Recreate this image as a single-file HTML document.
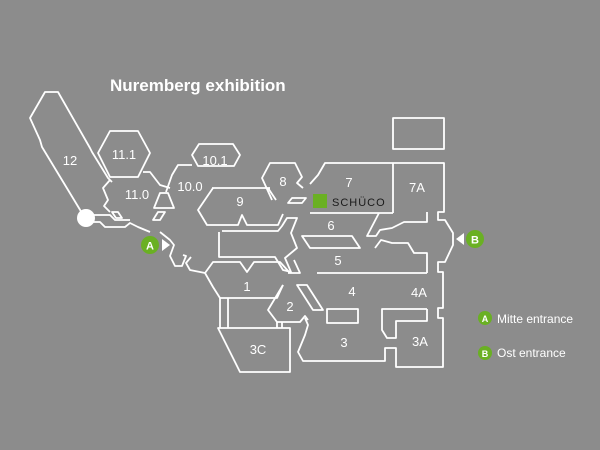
<!DOCTYPE html>
<html><head><meta charset="utf-8"><style>
html,body{margin:0;padding:0;background:#8c8c8c;}
svg{display:block}
text{font-family:"Liberation Sans",sans-serif;fill:#fff;}
</style></head><body>
<svg width="600" height="450" viewBox="0 0 600 450">
<rect width="600" height="450" fill="#8c8c8c"/>
<g fill="none" stroke="#fff" stroke-width="1.8" stroke-linejoin="round">
<polyline points="85,218 42,147 40,140 30,118 45,92 58,92 90,148 92,152 108,178 112,182"/>
<polyline points="85,222 100,222 105,227 125,227 130,223 138,227 150,232"/>
<polyline points="93,215 110,215 115,220 130,220"/>
<polygon points="98,153 110,131 138,131 150,153 138,177 110,177"/>
<polyline points="110,180 103,188 108,200 104,206 110,212"/>
<polyline points="143,172 150,172 160,185 170,188"/>
<polygon points="160,193 168,193 174,208 160,208 154,208"/>
<polygon points="112,212 118,212 122,218 116,218"/>
<polygon points="158,212 165,212 160,220 153,220"/>
<polyline points="166,192 172,175 178,165 192,165"/>
<polygon points="192,155 199,144 233,144 240,155 234,166 198,166"/>
<polyline points="212,188 270,188"/>
<polyline points="213,188 198,210 207,225 238,225 242,215 247,225 278,225 283,214"/>
<polyline points="268,188 276,200"/>
<polyline points="272,200 262,178 270,163 295,163 302,177 297,183 303,188"/>
<polygon points="292,198 306,198 302,203 288,203"/>
<polyline points="310,184 318,175 325,163 444,163 444,212 438,212 438,220 445,220 453,233 453,245 445,262 438,262 438,272 443,272 443,308 438,308 438,318 443,318 443,367 396,367 396,348 385,348 385,361 303,361 298,352 305,335 308,325 305,318"/>
<line x1="310" y1="213" x2="393" y2="213"/>
<line x1="393" y1="163" x2="393" y2="213"/>
<rect x="393" y="118" width="51" height="31"/>
<polyline points="379,213 367,236 376,236 380,230 392,228 404,222 427,222 427,212"/>
<polyline points="375,248 381,240 392,243 408,243 414,253 427,253 427,273"/>
<line x1="317" y1="273" x2="427" y2="273"/>
<polygon points="302,236 352,236 360,248 310,248"/>
<polyline points="219,232 219,257 275,257 283,270 291,272 285,258 297,248 291,233 297,218 287,218 282,226 278,231 222,231"/>
<polyline points="288,273 300,273 294,260"/>
<polyline points="160,232 170,240 174,245 170,256 175,266 182,266 186,256 183,255"/>
<polyline points="191,257 186,263 190,270 205,273"/>
<polyline points="205,273 213,262 240,262 247,272 254,262 280,262 290,273"/>
<polyline points="205,273 213,287 220,298 277,298 283,285"/>
<line x1="220" y1="298" x2="220" y2="328"/>
<line x1="228" y1="298" x2="228" y2="328"/>
<polyline points="283,285 268,310 277,322 300,322 305,316 308,320"/>
<polyline points="277,322 277,328"/>
<polyline points="282,322 282,328"/>
<polygon points="218,328 290,328 290,372 240,372"/>
<polygon points="297,285 307,285 323,310 313,310"/>
<rect x="327" y="309" width="31" height="14"/>
<polyline points="427,309 382,309 382,330 387,338 396,338 396,321 427,321 427,309"/>
</g>
<circle cx="86" cy="218" r="9" fill="#fff"/>
<rect x="313" y="194" width="14" height="14" fill="#6ab023"/>
<text x="332" y="206" font-size="11" style="fill:#1a1a1a;letter-spacing:1px">SCHÜCO</text>
<circle cx="150" cy="245" r="9" fill="#6ab023"/>
<text x="150" y="249.5" font-size="11" font-weight="bold" text-anchor="middle">A</text>
<polygon points="162,239 162,251 170,245" fill="#fff"/>
<circle cx="475" cy="239" r="9" fill="#6ab023"/>
<text x="475" y="243.5" font-size="11" font-weight="bold" text-anchor="middle">B</text>
<polygon points="464,233 464,245 456,239" fill="#fff"/>
<circle cx="485" cy="318" r="7" fill="#6ab023"/>
<text x="485" y="322" font-size="9" font-weight="bold" text-anchor="middle">A</text>
<text x="497" y="323" font-size="12">Mitte entrance</text>
<circle cx="485" cy="353" r="7" fill="#6ab023"/>
<text x="485" y="357" font-size="9" font-weight="bold" text-anchor="middle">B</text>
<text x="497" y="357" font-size="12">Ost entrance</text>
<text x="110" y="91" font-size="17" font-weight="bold">Nuremberg exhibition</text>
<g font-size="13">
<text x="70" y="165" text-anchor="middle">12</text>
<text x="124" y="159" text-anchor="middle">11.1</text>
<text x="137" y="199" text-anchor="middle">11.0</text>
<text x="190" y="191" text-anchor="middle">10.0</text>
<text x="215" y="165" text-anchor="middle">10.1</text>
<text x="240" y="206" text-anchor="middle">9</text>
<text x="283" y="186" text-anchor="middle">8</text>
<text x="349" y="187" text-anchor="middle">7</text>
<text x="417" y="192" text-anchor="middle">7A</text>
<text x="331" y="230" text-anchor="middle">6</text>
<text x="338" y="265" text-anchor="middle">5</text>
<text x="352" y="296" text-anchor="middle">4</text>
<text x="419" y="297" text-anchor="middle">4A</text>
<text x="247" y="291" text-anchor="middle">1</text>
<text x="290" y="311" text-anchor="middle">2</text>
<text x="344" y="347" text-anchor="middle">3</text>
<text x="420" y="346" text-anchor="middle">3A</text>
<text x="258" y="354" text-anchor="middle">3C</text>
</g>
</svg>
</body></html>
